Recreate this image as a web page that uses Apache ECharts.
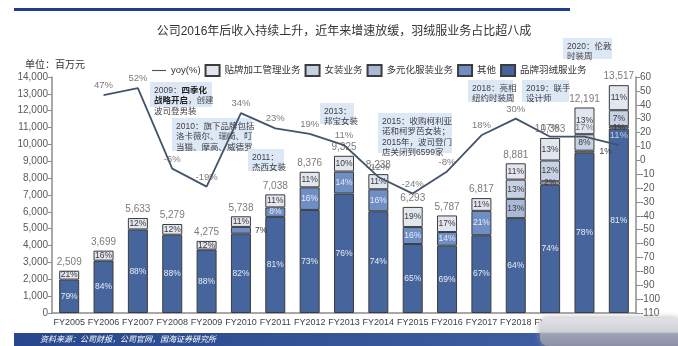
<!DOCTYPE html>
<html>
<head>
<meta charset="utf-8">
<script src="https://cdn.jsdelivr.net/npm/echarts@6/dist/echarts.min.js"></script>
<style>
html,body{margin:0;padding:0;background:#fff;}
#chart{width:678px;height:346px;}
</style>
</head>
<body>
<div id="chart"></div>
<script>
// Fiscal years on the category axis
const years = ['FY2005','FY2006','FY2007','FY2008','FY2009','FY2010','FY2011','FY2012','FY2013',
  'FY2014','FY2015','FY2016','FY2017','FY2018','FY2019','FY2020','FY2021'];

// Total revenue, RMB million
const revenue = [2509,3699,5633,5279,4275,5738,7038,8376,9325,8238,6293,5787,6817,8881,10383,12191,13517];

// Year-on-year growth, %
const yoy = [null,47,52,-6,-19,34,23,19,11,-12,-24,-8,18,30,17,17,11];

// Revenue mix, % of each year's total
const shareDown        = [79,84,88,88,88,82,81,73,76,74,65,69,67,64,74,78,81];
const shareOther       = [0,0,0,0,0,7,8,16,14,16,16,14,21,0,0,0,0];
const shareDiversified = [0,0,0,0,0,0,0,0,0,0,0,0,0,13,2,1,1];
const shareWomen       = [0,0,0,0,0,0,0,0,0,0,0,0,0,13,12,8,7];
const shareOEM         = [21,16,12,12,12,11,11,11,10,11,19,17,11,11,13,13,11];

const NUM = "'Liberation Sans',Arial,sans-serif";
const CJK = "'Liberation Sans','Noto Sans CJK SC',sans-serif";

const segments = [
  {name:'品牌羽绒服业务',   share:shareDown,        color:'#46659c', text:'#e6ecf5'},
  {name:'其他',             share:shareOther,       color:'#6e8ec4', text:'#e6ecf5'},
  {name:'多元化服装业务',   share:shareDiversified, color:'#a9b9d7', text:'#3a3a3a'},
  {name:'女装业务',         share:shareWomen,       color:'#c7d1e4', text:'#3a3a3a'},
  {name:'贴牌加工管理业务', share:shareOEM,         color:'#e2e6ef', text:'#3a3a3a'}
];

// label placement tweaks for thin segments
const labelTweaks = {
  '其他': {5: {position:'right', distance:4, color:'#3a3a3a'}},
  '多元化服装业务': {15: {position:'right', distance:5}}
};

const shareSum = years.map((_, i) => segments.reduce((s, g) => s + g.share[i], 0));

const barSeries = segments.map(g => ({
  name: g.name,
  type: 'bar',
  stack: 'mix',
  barWidth: 20,
  yAxisIndex: 0,
  itemStyle: {color: g.color, borderColor: '#3c3c3c', borderWidth: 1},
  label: {
    show: true,
    position: 'inside',
    fontFamily: NUM,
    fontSize: 8.5,
    color: g.text,
    formatter: p => p.data.pct + '%'
  },
  data: years.map((_, i) => {
    const s = g.share[i];
    if (!s) return null;
    const item = {value: revenue[i] * s / shareSum[i], pct: s};
    const t = labelTweaks[g.name] && labelTweaks[g.name][i];
    if (t) item.label = t;
    return item;
  })
}));

// revenue totals written above each column
const totalSeries = {
  name: 'total',
  type: 'scatter',
  yAxisIndex: 0,
  symbolSize: 1,
  itemStyle: {color: 'rgba(0,0,0,0)'},
  silent: true,
  z: 6,
  label: {
    show: true,
    position: 'top',
    distance: 3,
    fontFamily: NUM,
    fontSize: 10,
    color: '#595959',
    formatter: p => p.value.toLocaleString('en-US')
  },
  data: revenue
};

const yoySeries = {
  name: 'yoy(%)',
  type: 'line',
  yAxisIndex: 1,
  symbol: 'none',
  lineStyle: {color: '#44546a', width: 1.8},
  itemStyle: {color: '#44546a'},
  z: 5,
  data: yoy
};

// growth figures written above the yoy line
const yoyTweaks = {16: {color: '#dce4f1'}};
const yoyLabelSeries = {
  name: 'yoyLabel',
  type: 'scatter',
  yAxisIndex: 1,
  symbolSize: 1,
  itemStyle: {color: 'rgba(0,0,0,0)'},
  silent: true,
  z: 6,
  label: {
    show: true,
    position: 'top',
    distance: 4,
    fontFamily: NUM,
    fontSize: 9.5,
    color: '#595959',
    formatter: p => p.value + '%'
  },
  data: yoy.map((v, i) => yoyTweaks[i] ? {value: v, label: yoyTweaks[i]} : v)
};

// milestone notes
function note(x, y, w, h, text, rich) {
  return {
    type: 'group', z: 100,
    children: [
      {type:'rect', shape:{x:x, y:y, width:w, height:h}, style:{fill:'#dde8f7'}},
      {type:'text', x:x+4, y:y+3, style:{text:text, rich:rich || {}, fontFamily:CJK, fontSize:8.5,
        lineHeight:10.5, fill:'#404040'}}
    ]
  };
}
const boldRich = {b:{fontFamily:CJK, fontSize:8.5, lineHeight:10.5, fontWeight:'bold', fill:'#222'}};

const axisLineStyle = {show:true, lineStyle:{color:'#8c8c8c', width:1.5}};

const option = {
  animation: false,
  backgroundColor: '#fff',
  legend: {
    left: 147, top: 59,
    itemWidth: 14, itemHeight: 11, itemGap: 4,
    textStyle: {fontFamily: CJK, fontSize: 9.5, color: '#333'},
    data: [
      {name:'yoy(%)', icon:'path://M0,0 H30 V2.4 H0 Z'},
      {name:'贴牌加工管理业务', icon:'rect'},
      {name:'女装业务', icon:'rect'},
      {name:'多元化服装业务', icon:'rect'},
      {name:'其他', icon:'rect'},
      {name:'品牌羽绒服业务', icon:'rect'}
    ]
  },
  grid: {left: 52, right: 42, top: 77, bottom: 33},
  xAxis: {
    type: 'category',
    data: years,
    axisLine: axisLineStyle,
    axisTick: {show: false},
    axisLabel: {interval: 0, fontFamily: NUM, fontSize: 9, color: '#404040', margin: 5}
  },
  yAxis: [
    {
      type: 'value', min: 0, max: 14000, interval: 1000,
      axisLine: axisLineStyle,
      axisTick: {show: true, length: 4, lineStyle: {color: '#8c8c8c'}},
      splitLine: {show: false},
      axisLabel: {fontFamily: NUM, fontSize: 10, color: '#595959', margin: 4,
        formatter: v => v.toLocaleString('en-US')}
    },
    {
      type: 'value', position: 'right', min: -110, max: 60, interval: 10,
      axisLine: axisLineStyle,
      axisTick: {show: true, length: 4, lineStyle: {color: '#8c8c8c'}},
      splitLine: {show: false},
      axisLabel: {fontFamily: NUM, fontSize: 10, color: '#595959', margin: 4}
    }
  ],
  graphic: [
    {type:'rect', shape:{x:14, y:8, width:556, height:3}, style:{fill:'#1f3d8b'}},
    {type:'text', x:344, y:32, style:{text:'公司2016年后收入持续上升，近年来增速放缓，羽绒服业务占比超八成',
      fontFamily:CJK, fontSize:12, fill:'#333', align:'center', verticalAlign:'middle'}},
    {type:'text', x:25, y:65, style:{text:'单位：百万元', fontFamily:CJK, fontSize:10, fill:'#333',
      verticalAlign:'middle'}},
    note(150, 82, 62, 25, '2009：{b|四季化}\n{b|战略开启}，创建\n波司登男装', boldRich),
    note(172, 118, 80, 33, '2010：旗下品牌包括\n洛卡薇尔、瑞崎、叮\n当猫、摩高、威德罗'),
    note(248, 149, 36, 22, '2011：\n杰西女装'),
    note(320, 103, 34, 21, '2013：\n邦宝女装'),
    note(378, 113, 74, 40, '2015：收购柯利亚\n诺和柯罗芭女装；\n2015年，波司登门\n店关闭到6599家'),
    note(468, 80, 45, 22, '2018：亮相\n纽约时装周'),
    note(522, 80, 47, 22, '2019：联手\n设计师'),
    note(563, 38, 49, 21, '2020：伦敦\n时装周'),
    {type:'rect', z:100, shape:{x:14, y:333, width:664, height:13},
      style:{fill:{type:'linear', x:0, y:0, x2:1, y2:0,
        colorStops:[{offset:0, color:'#27468b'}, {offset:1, color:'#4463a6'}]}}},
    {type:'text', z:101, x:40, y:339.5, style:{text:'资料来源：公司财报，公司官网，国海证券研究所',
      fontFamily:CJK, fontSize:8, fontStyle:'italic', fill:'#fff', verticalAlign:'middle'}},
    {type:'rect', z:102, shape:{x:540, y:318, width:138, height:28, r:[8,0,0,8]},
      style:{fill:{type:'linear', x:0, y:0, x2:0, y2:1,
        colorStops:[{offset:0, color:'#e2e2e5'}, {offset:0.5, color:'#cfd0d6'},
          {offset:0.56, color:'#a0a3b4'}, {offset:1, color:'#8c90a8'}]},
        shadowBlur:6, shadowColor:'rgba(150,150,165,0.8)'}}
  ],
  series: [...barSeries, totalSeries, yoySeries, yoyLabelSeries]
};

const chart = echarts.init(document.getElementById('chart'), null, {renderer: 'canvas'});
chart.setOption(option);
</script>
</body>
</html>
